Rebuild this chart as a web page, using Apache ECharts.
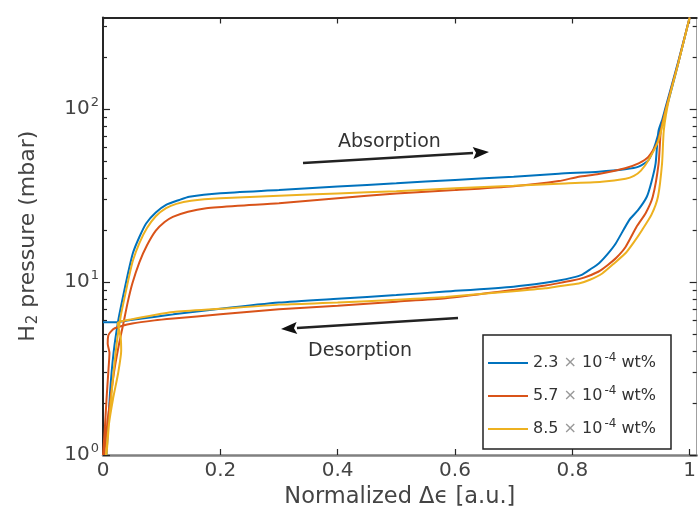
<!DOCTYPE html>
<html>
<head>
<meta charset="utf-8">
<script src="https://cdn.jsdelivr.net/npm/echarts@6/dist/echarts.min.js"></script>
<style>
  html, body { margin: 0; padding: 0; background: #fff; }
  #chart { width: 699px; height: 516px; }
</style>
</head>
<body>
<div id="chart"></div>
<script>
// 坐标轴刻度
var xTicks = [0, 0.2, 0.4, 0.6, 0.8, 1];
var xTickLabels = ['0', '0.2', '0.4', '0.6', '0.8', '1'];
var yTicks = [1, 10, 100];
var yTickExp = ['0', '1', '2'];
var yMinorTicks = [2, 3, 4, 5, 6, 7, 8, 9, 20, 30, 40, 50, 60, 70, 80, 90, 200, 300];

// 图例
var legendCoef = ['2.3', '5.7', '8.5'];
var legendExp = '-4';

// 2.3e-4 wt% (吸附 -> 脱附)
var blueAbsX = [0.006, 0.012, 0.018, 0.026, 0.034, 0.042, 0.051, 0.062, 0.0735, 0.09, 0.1075, 0.13, 0.147, 0.2, 0.3, 0.4, 0.5, 0.6, 0.7, 0.777, 0.845, 0.89, 0.913, 0.93, 0.942, 0.96, 0.98, 1.0];
var blueAbsY = [1.0, 2.3, 3.9, 6.0, 8.2, 11.0, 14.7, 18.2, 21.8, 25.2, 27.9, 29.8, 31.1, 32.6, 34.0, 35.6, 37.2, 38.9, 40.6, 42.3, 43.4, 44.8, 46.4, 50.7, 63.4, 105, 185, 338];
var blueDesX = [1.0, 0.98, 0.96, 0.947, 0.942, 0.935, 0.927, 0.912, 0.897, 0.874, 0.86, 0.845, 0.83, 0.816, 0.8, 0.777, 0.754, 0.7, 0.584, 0.5, 0.4, 0.3, 0.2, 0.12, 0.09, 0.05, 0.03, 0.015, 0.0];
var blueDesY = [338, 180, 100, 75, 48.5, 38, 31.1, 26, 22.8, 16.7, 14.5, 12.8, 11.8, 11.0, 10.6, 10.2, 9.9, 9.4, 8.8, 8.4, 8.0, 7.6, 7.0, 6.5, 6.3, 6.05, 5.9, 5.85, 5.85];

// 5.7e-4 wt%
var redAbsX = [0.002, 0.008, 0.014, 0.02, 0.028, 0.034, 0.042, 0.05, 0.062, 0.075, 0.09, 0.105, 0.119, 0.145, 0.176, 0.23, 0.3, 0.4, 0.5, 0.6, 0.7, 0.777, 0.811, 0.845, 0.89, 0.913, 0.93, 0.945, 0.96, 0.98, 1.0];
var redAbsY = [1.0, 1.6, 2.3, 3.2, 4.5, 5.6, 7.6, 9.8, 13.0, 16.3, 19.8, 22.2, 23.8, 25.5, 26.7, 27.6, 28.5, 30.5, 32.5, 34.0, 35.8, 38.3, 40.6, 42.1, 45.5, 48.5, 53.0, 64, 102, 182, 338];
var redDesX = [1.0, 0.98, 0.96, 0.951, 0.947, 0.937, 0.925, 0.91, 0.891, 0.875, 0.86, 0.845, 0.82, 0.8, 0.777, 0.754, 0.7, 0.584, 0.5, 0.4, 0.3, 0.2, 0.12, 0.088, 0.05, 0.02, 0.013, 0.009, 0.008, 0.011, 0.009, 0.006, 0.003, 0.0];
var redDesY = [338, 182, 102, 75, 48, 31, 25, 21, 16, 13.8, 12.5, 11.5, 10.6, 10.2, 9.85, 9.55, 9.0, 8.05, 7.7, 7.3, 6.95, 6.5, 6.15, 6.0, 5.75, 5.4, 5.15, 4.9, 4.4, 3.9, 3.0, 2.1, 1.4, 1.0];

// 8.5e-4 wt%
var yelAbsX = [0.006, 0.012, 0.018, 0.024, 0.03, 0.037, 0.044, 0.051, 0.062, 0.075, 0.09, 0.1075, 0.125, 0.15, 0.2, 0.3, 0.4, 0.5, 0.6, 0.7, 0.777, 0.85, 0.891, 0.905, 0.917, 0.93, 0.947, 0.96, 0.98, 1.0];
var yelAbsY = [1.0, 1.8, 3.0, 4.6, 6.3, 8.2, 10.6, 13.3, 16.8, 20.5, 24.0, 26.7, 28.3, 29.5, 30.5, 31.5, 32.5, 33.5, 34.8, 36.0, 37.0, 38.0, 39.5, 41.0, 44.0, 50.7, 66, 100, 180, 338];
var yelDesX = [1.0, 0.98, 0.965, 0.956, 0.953, 0.946, 0.935, 0.919, 0.905, 0.891, 0.87, 0.851, 0.83, 0.811, 0.777, 0.754, 0.7, 0.584, 0.5, 0.4, 0.3, 0.2, 0.12, 0.088, 0.05, 0.025, 0.03, 0.031, 0.026, 0.017, 0.01, 0.005];
var yelDesY = [338, 180, 115, 75.6, 48.5, 31.1, 24.5, 20, 17, 14.7, 12.7, 11.2, 10.3, 9.8, 9.45, 9.2, 8.85, 8.2, 7.9, 7.6, 7.4, 7.0, 6.7, 6.45, 6.1, 5.8, 4.8, 4.0, 3.0, 2.1, 1.5, 1.0];

var colors = ['#0072BD', '#D95319', '#EDB120'];
var FONT = 'DejaVu Sans';

function loop(ax, ay, dx, dy) {
    var pts = [];
    for (var i = 0; i < ax.length; i++) pts.push([ax[i], ay[i]]);
    for (var j = 0; j < dx.length; j++) pts.push([dx[j], dy[j]]);
    return pts;
}

function legendName(i) {
    return legendCoef[i] + ' x 10^' + legendExp + ' wt%';
}

// 箭头
function arrow(x1, y1, x2, y2) {
    var ang = Math.atan2(y2 - y1, x2 - x1);
    var L = 16, W = 6;
    var bx = x2 - L * Math.cos(ang), by = y2 - L * Math.sin(ang);
    var px = -Math.sin(ang), py = Math.cos(ang);
    return [{
        type: 'line',
        shape: { x1: x1, y1: y1, x2: bx, y2: by },
        style: { stroke: '#222', lineWidth: 2.5 }
    }, {
        type: 'polygon',
        shape: { points: [[x2, y2], [bx + px * W, by + py * W], [bx + 3 * Math.cos(ang), by + 3 * Math.sin(ang)], [bx - px * W, by - py * W]] },
        style: { fill: '#111' }
    }];
}

var chart = echarts.init(document.getElementById('chart'));

var series = [
    loop(blueAbsX, blueAbsY, blueDesX, blueDesY),
    loop(redAbsX, redAbsY, redDesX, redDesY),
    loop(yelAbsX, yelAbsY, yelDesX, yelDesY)
].map(function (d, i) {
    return {
        name: legendName(i),
        type: 'line',
        data: d,
        symbol: 'none',
        smooth: 0.2,
        clip: true,
        lineStyle: { color: colors[i], width: 2 },
        itemStyle: { color: colors[i] },
        z: 3 + i
    };
});

var axisCol = '#262626';
var xMax = 1.012, yMin = 1, yMax = 338;

option = {
    animation: false,
    backgroundColor: '#fff',
    grid: { left: 103, right: 2, top: 17.5, bottom: 61 },
    xAxis: [{
        type: 'value', position: 'bottom', min: 0, max: xMax,
        name: 'Normalized Δϵ [a.u.]', nameLocation: 'middle', nameGap: 29,
        nameTextStyle: { fontFamily: FONT, fontSize: 22.5, color: '#444' },
        axisLine: { lineStyle: { color: '#808080', width: 2.5 } },
        axisTick: { inside: true, length: 6, customValues: xTicks, lineStyle: { color: axisCol, width: 1.2 } },
        axisLabel: {
            customValues: xTicks, margin: 6, fontFamily: FONT, fontSize: 20, color: '#444',
            formatter: function (v) { return xTickLabels[xTicks.indexOf(v)]; }
        },
        splitLine: { show: false }
    }, {
        type: 'value', position: 'top', min: 0, max: xMax,
        axisLine: { lineStyle: { color: axisCol, width: 2 } },
        axisTick: { inside: true, length: 6, customValues: xTicks, lineStyle: { color: axisCol, width: 1.2 } },
        axisLabel: { show: false },
        splitLine: { show: false }
    }],
    yAxis: [{
        type: 'log', position: 'left', min: yMin, max: yMax, logBase: 10,
        name: '{t|H}{sub|2}{t| pressure (mbar)}', nameLocation: 'middle', nameGap: 62, nameRotate: 90,
        nameTextStyle: {
            fontFamily: FONT, fontSize: 22, color: '#444',
            rich: {
                t: { fontFamily: FONT, fontSize: 22, color: '#444', lineHeight: 26 },
                sub: { fontFamily: FONT, fontSize: 15, color: '#444', verticalAlign: 'bottom', lineHeight: 26, padding: [10, 0, 0, 1] }
            }
        },
        axisLine: { lineStyle: { color: axisCol, width: 2 } },
        axisTick: { inside: true, length: 7, customValues: yTicks, lineStyle: { color: axisCol, width: 1.2 } },
        axisLabel: {
            customValues: yTicks, margin: 4, color: '#444',
            formatter: function (v) {
                var k = yTicks.indexOf(v);
                return '{b|10}{s|' + yTickExp[k] + '}';
            },
            rich: {
                b: { fontFamily: FONT, fontSize: 20, color: '#444', lineHeight: 26 },
                s: { fontFamily: FONT, fontSize: 13, color: '#444', verticalAlign: 'top', lineHeight: 26, padding: [0, 0, 11, 1] }
            }
        },
        splitLine: { show: false }
    }, {
        type: 'log', position: 'left', min: yMin, max: yMax, logBase: 10,
        axisLine: { show: false },
        axisTick: { inside: true, length: 4, customValues: yMinorTicks, lineStyle: { color: axisCol, width: 1.2 } },
        axisLabel: { show: false },
        splitLine: { show: false }
    }, {
        type: 'log', position: 'right', min: yMin, max: yMax, logBase: 10,
        axisLine: { lineStyle: { color: '#a0a0a0', width: 1 } },
        axisTick: { inside: true, length: 7, customValues: yTicks, lineStyle: { color: axisCol, width: 1.2 } },
        axisLabel: { show: false },
        splitLine: { show: false }
    }, {
        type: 'log', position: 'right', min: yMin, max: yMax, logBase: 10,
        axisLine: { show: false },
        axisTick: { inside: true, length: 4, customValues: yMinorTicks, lineStyle: { color: axisCol, width: 1.2 } },
        axisLabel: { show: false },
        splitLine: { show: false }
    }],
    legend: {
        orient: 'vertical', left: 483, top: 335,
        padding: [17, 15, 11, 5], itemGap: 13,
        itemWidth: 40, itemHeight: 2, icon: 'rect',
        borderColor: '#222', borderWidth: 1.5, backgroundColor: '#fff',
        formatter: function (name) {
            var k = series.map(function (s) { return s.name; }).indexOf(name);
            return '{n|' + legendCoef[k] + ' }{x|×}{n| 10}{s|' + legendExp + '}{n| wt%}';
        },
        textStyle: {
            rich: {
                n: { fontFamily: FONT, fontSize: 16, color: '#333', lineHeight: 22 },
                x: { fontFamily: FONT, fontSize: 16, color: '#999', lineHeight: 22 },
                s: { fontFamily: FONT, fontSize: 12, color: '#333', verticalAlign: 'top', lineHeight: 22, padding: [0, 0, 8, 2] }
            }
        }
    },
    graphic: [].concat(
        arrow(303, 163, 489, 152),
        arrow(458, 318, 281, 329),
        [{
            type: 'text', left: 338, top: 133,
            style: { text: 'Absorption', fontFamily: FONT, fontSize: 19, fill: '#333' }
        }, {
            type: 'text', left: 308, top: 342,
            style: { text: 'Desorption', fontFamily: FONT, fontSize: 19, fill: '#333' }
        }]
    ),
    series: series
};

chart.setOption(option);
</script>
</body>
</html>
